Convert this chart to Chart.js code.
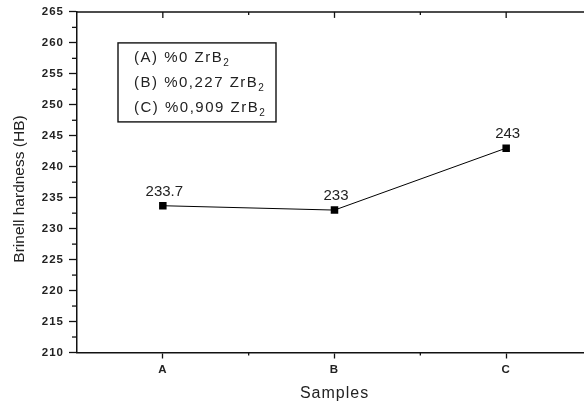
<!DOCTYPE html>
<html>
<head>
<meta charset="utf-8">
<script src="https://cdn.jsdelivr.net/npm/chart.js@4.4.1/dist/chart.umd.min.js"></script>
<style>
html,body{margin:0;padding:0;background:#fff;overflow:hidden;width:584px;height:406px}
#wrap{position:relative;width:600px;height:406px}
</style>
</head>
<body>
<div id="wrap"><canvas id="c" width="600" height="406"></canvas></div>
<script>
// ---- data ----
const categories = ['A', 'B', 'C'];
const hardness = [233.7, 233, 243];
const valueLabels = ['233.7', '233', '243'];
const yMin = 210;
const yMax = 265;
const yStep = 5;
const xTitle = 'Samples';
const yTitle = 'Brinell hardness (HB)';
const legendTexts = ['(A) %0 ZrB', '(B) %0,227 ZrB', '(C) %0,909 ZrB'];
const legendSubs = ['2', '2', '2'];

const FONT = '"Liberation Sans", Arial, sans-serif';
const TXT = '#222';
const AX = '#111';

const deco = {
  id: 'deco',
  beforeDraw(chart) {
    const ctx = chart.ctx;
    ctx.save();
    ctx.fillStyle = '#fff';
    ctx.fillRect(0, 0, chart.width, chart.height);
    ctx.restore();
    ctx.letterSpacing = '1px';
  },
  afterDraw(chart) {
    const { ctx, chartArea: a, scales: { x, y } } = chart;
    ctx.save();
    ctx.letterSpacing = '0px';
    ctx.strokeStyle = AX;
    const ln = (x1, y1, x2, y2, w) => {
      ctx.lineWidth = w; ctx.beginPath(); ctx.moveTo(x1, y1); ctx.lineTo(x2, y2); ctx.stroke();
    };
    // top and right frame
    ln(a.left, a.top, a.right, a.top, 1.5);
    ln(a.right, a.top, a.right, a.bottom, 1.5);
    // top major ticks (inward)
    categories.forEach((c, i) => {
      const px = x.getPixelForValue(i);
      ln(px, a.top, px, a.top + 6, 1.3);
    });
    // minor x ticks
    for (let i = 0; i < categories.length - 1; i++) {
      const px = x.getPixelForValue(i + 0.5);
      ln(px, a.bottom, px, a.bottom + 3, 1.3);
      ln(px, a.top, px, a.top + 3, 1.3);
    }
    // minor y ticks
    for (let v = yMin; v < yMax; v += yStep) {
      const py = y.getPixelForValue(v + yStep / 2);
      ln(a.left - 5, py, a.left, py, 1.3);
    }
    // data labels
    ctx.fillStyle = TXT;
    ctx.font = '15px ' + FONT;
    ctx.textAlign = 'center';
    ctx.textBaseline = 'alphabetic';
    const meta = chart.getDatasetMeta(0);
    meta.data.forEach((pt, i) => {
      ctx.fillText(valueLabels[i], pt.x + 1.5, pt.y - 10);
    });
    // y title
    ctx.save();
    ctx.translate(20, 189);
    ctx.rotate(-Math.PI / 2);
    ctx.font = '15.5px ' + FONT;
    ctx.textAlign = 'center';
    ctx.textBaseline = 'middle';
    ctx.fillText(yTitle, 0, 0);
    ctx.restore();
    // legend box
    const bx = a.left + 41, by = a.top + 31, bw = 158, bh = 79;
    ctx.strokeStyle = '#111';
    ctx.lineWidth = 1.4;
    ctx.strokeRect(bx, by, bw, bh);
    ctx.textAlign = 'left';
    ctx.textBaseline = 'alphabetic';
    legendTexts.forEach((t, i) => {
      const ty = by + 19 + i * 25;
      ctx.font = '15px ' + FONT;
      ctx.letterSpacing = '1.5px';
      ctx.fillText(t, bx + 16, ty);
      const w = ctx.measureText(t).width;
      ctx.font = '10px ' + FONT;
      ctx.letterSpacing = '0px';
      ctx.fillText(legendSubs[i], bx + 16 + w, ty + 4);
    });
    ctx.restore();
  }
};

new Chart(document.getElementById('c'), {
  type: 'line',
  data: {
    datasets: [{
      data: hardness.map((v, i) => ({ x: i, y: v })),
      borderColor: '#000',
      borderWidth: 1,
      backgroundColor: '#000',
      pointStyle: 'rect',
      pointRadius: 5.3,
      pointBorderWidth: 0,
      pointBackgroundColor: '#000',
      tension: 0,
      fill: false
    }]
  },
  options: {
    responsive: false,
    animation: false,
    devicePixelRatio: 1,
    layout: { padding: { top: 8, right: 8, left: 0, bottom: 0 } },
    plugins: { legend: { display: false }, tooltip: { enabled: false } },
    scales: {
      x: {
        type: 'linear',
        min: -0.5,
        max: 2.5,
        afterBuildTicks: s => { s.ticks = categories.map((c, i) => ({ value: i })); },
        afterFit: s => { s.height = 53.5; },
        ticks: {
          callback: v => categories[v] ?? '',
          font: { family: FONT, size: 11.5, weight: 'bold' },
          color: TXT,
          padding: 4,
          maxRotation: 0,
          autoSkip: false
        },
        grid: { drawOnChartArea: false, drawTicks: true, tickLength: 6, tickColor: AX, tickWidth: 1.3 },
        border: { display: true, color: AX, width: 1.5 },
        title: { display: true, text: xTitle, font: { family: FONT, size: 16 }, color: TXT, padding: { top: 0, bottom: 3 } }
      },
      y: {
        min: yMin,
        max: yMax,
        afterFit: s => { s.width = 77; },
        ticks: {
          stepSize: yStep,
          font: { family: FONT, size: 11.5, weight: 'bold' },
          color: TXT,
          padding: 5
        },
        grid: { drawOnChartArea: false, drawTicks: true, tickLength: 8, tickColor: AX, tickWidth: 1.3 },
        border: { display: true, color: AX, width: 1.5 },
        title: { display: false }
      }
    }
  },
  plugins: [deco]
});
</script>
</body>
</html>
